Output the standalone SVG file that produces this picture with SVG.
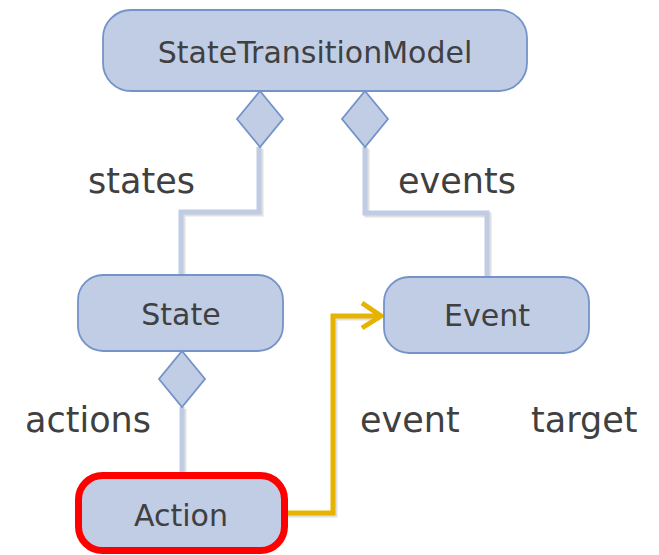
<svg xmlns="http://www.w3.org/2000/svg" width="659" height="555" viewBox="0 0 659 555">
<style>
.node{fill:#C1CDE5;stroke:#7393C9;stroke-width:1.8}
.sel{fill:#C1CDE5;stroke:#FF0000;stroke-width:7}
.dia{fill:#C1CDE5;stroke:#7393C9;stroke-width:1.8}
.ntext{font-family:"DejaVu Sans",Verdana,sans-serif;font-size:30px;fill:#404040;text-anchor:middle}
.label{font-family:"DejaVu Sans",Verdana,sans-serif;font-size:35px;fill:#404040}
.conn{fill:none;stroke:#BFCCE4;stroke-width:5}
.shadow{fill:none;stroke:#000;stroke-opacity:0.12;stroke-width:5}
.orange{fill:none;stroke:#E6B400;stroke-width:5}
</style>
<rect width="659" height="555" fill="#FFFFFF"/>
<g id="connectors">
  <path class="shadow" d="M261,149 V214 H183 V277"/>
  <path class="conn" d="M259,147 V212 H181 V275"/>
  <path class="shadow" d="M367,149 V215 H489 V279"/>
  <path class="conn" d="M365,147 V213 H487 V277"/>
  <path class="shadow" d="M184,409 V475"/>
  <path class="conn" d="M182,407 V473"/>
  <path class="shadow" d="M286,515 H335 V318 H380" stroke-opacity="0.1"/>
  <path class="orange" d="M284,513 H333 V316 H380"/>
  <path class="orange" d="M362,303 L381,316 L362,328"/>
</g>
<g id="StateTransitionModel">
  <rect class="node" x="103" y="10" width="424" height="81" rx="28"/>
  <text class="ntext" x="315" y="63">StateTransitionModel</text>
</g>
<g id="diamond-states">
  <polygon class="dia" points="260,91 283,119 260,147 237,119"/>
</g>
<g id="diamond-events">
  <polygon class="dia" points="365,91 388,119 365,147 342,119"/>
</g>
<g id="State">
  <rect class="node" x="78" y="275" width="205" height="76" rx="25"/>
  <text class="ntext" x="181" y="325">State</text>
</g>
<g id="diamond-actions">
  <polygon class="dia" points="182,351 205,379 182,407 159,379"/>
</g>
<g id="Event">
  <rect class="node" x="384" y="277" width="205" height="76" rx="25"/>
  <text class="ntext" x="487" y="326">Event</text>
</g>
<g id="Action">
  <rect class="sel" x="78.5" y="475.5" width="206" height="75" rx="24"/>
  <text class="ntext" x="181" y="526">Action</text>
</g>
<g id="labels">
  <text class="label" x="88" y="193">states</text>
  <text class="label" x="398" y="193">events</text>
  <text class="label" x="25" y="432">actions</text>
  <text class="label" x="360" y="432">event</text>
  <text class="label" x="531" y="432">target</text>
</g>
</svg>
